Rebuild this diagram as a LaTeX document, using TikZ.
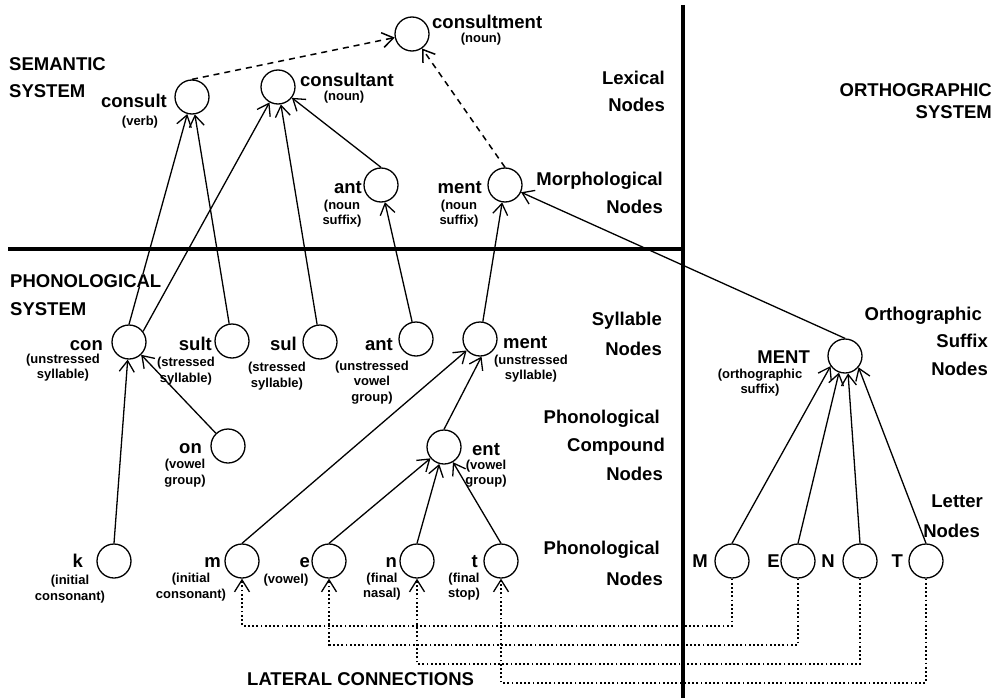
\documentclass[tikz,border=0pt]{standalone}
\usepackage{fontspec}
\setmainfont{Liberation Sans}
\usetikzlibrary{arrows.meta}
\begin{document}
\begin{tikzpicture}[x=1pt,y=-1pt,
  nd/.style={circle,draw,line width=1.3pt,minimum size=34pt,inner sep=0pt},
  big/.style={font=\bfseries\fontsize{18.5}{22}\selectfont,inner sep=0pt},
  lbl/.style={font=\bfseries\fontsize{13}{15.5}\selectfont,inner sep=0pt,align=center},
  link/.style={line width=1.3pt,-{Straight Barb[length=11pt,width=15pt]}},
  dlink/.style={link,line width=1.5pt,dash pattern=on 6pt off 5pt},
  lat/.style={line width=1.8pt,dash pattern=on 1.8pt off 2.4pt,-{Straight Barb[length=12pt,width=15pt,line width=1.3pt]}},
  wall/.style={line width=4.5pt}]
\useasboundingbox (0,0) rectangle (1000,698);

% walls
\draw[wall] (8,249) -- (683,249);
\draw[wall] (683,5) -- (683,698);

% nodes
\node[nd] (consultment) at (412,34) {};
\node[nd] (consult) at (192,97) {};
\node[nd] (consultant) at (278,87) {};
\node[nd] (antM) at (381,185) {};
\node[nd] (mentM) at (505,185) {};
\node[nd] (con) at (129,342) {};
\node[nd] (sult) at (232,341) {};
\node[nd] (sul) at (320,342) {};
\node[nd] (antS) at (416,339) {};
\node[nd] (mentS) at (480,339) {};
\node[nd] (on) at (228,446) {};
\node[nd] (ent) at (444,447) {};
\node[nd] (k) at (114,561) {};
\node[nd] (m) at (242,561) {};
\node[nd] (e) at (329,561) {};
\node[nd] (n) at (417,561) {};
\node[nd] (t) at (501,561) {};
\node[nd] (MENT) at (845,356) {};
\node[nd] (M) at (732,561) {};
\node[nd] (E) at (798,561) {};
\node[nd] (N) at (860,561) {};
\node[nd] (T) at (926,561) {};

% connections
\draw[dlink] (consult.north) -- (consultment);
\draw[dlink] (mentM.north) -- (consultment);
\draw[link] (con.north) -- (consult);
\draw[link] (sult) -- (consult);
\draw[link] (con.37) -- (consultant);
\draw[link] (sul) -- (consultant);
\draw[link] (antM.north) -- (consultant);
\draw[link] (antS) -- (antM);
\draw[link] (mentS) -- (mentM);
\draw[link] (MENT.north) -- (mentM);
\draw[link] (on) -- (con);
\draw[link] (k.north) -- (con);
\draw[link] (m.north) -- (mentS);
\draw[link] (ent.north) -- (mentS.275);
\draw[link] (e.north) -- (ent);
\draw[link] (n.north) -- (ent);
\draw[link] (t.north) -- (ent);
\draw[link] (M.north) -- (MENT.215);
\draw[link] (E.north) -- (MENT.250);
\draw[link] (N.north) -- (MENT.280);
\draw[link] (T.north) -- (MENT.320);

% lateral connections
\draw[lat] (M.south) -- ++(0,47) -| (m.south);
\draw[lat] (E.south) -- ++(0,66) -| (e.south);
\draw[lat] (N.south) -- ++(0,85) -| (n.south);
\draw[lat] (T.south) -- ++(0,104) -| (t.south);

% texts
\node[big,anchor=base west] (tsem1) at (9,71) {SEMANTIC};
\node[big,anchor=base west] (tsem2) at (9,98) {SYSTEM};
\node[big,anchor=base east] (tconsult) at (167,108) {consult};
\node[lbl] (lconsult) at (140,122) {(verb)};
\node[big,anchor=base west] (tconsultant) at (300,87) {consultant};
\node[lbl] (lconsultant) at (344,97) {(noun)};
\node[big,anchor=base west] (tconsultment) at (432,29) {consultment};
\node[lbl] (lconsultment) at (481,39.5) {(noun)};
\node[big,anchor=base east] (tlex1) at (665,85) {Lexical};
\node[big,anchor=base east] (tlex2) at (665,112) {Nodes};
\node[big,anchor=base east] (tantM) at (362,193) {ant};
\node[lbl] (lantM) at (342,213.5) {(noun\\suffix)};
\node[big,anchor=base east] (tmentM) at (482,193) {ment};
\node[lbl] (lmentM) at (459,213.5) {(noun\\suffix)};
\node[big,anchor=base east] (tmor1) at (663,185) {Morphological};
\node[big,anchor=base east] (tmor2) at (663,213) {Nodes};
\node[big,anchor=base east] (tortho1) at (992,97) {ORTHOGRAPHIC};
\node[big,anchor=base east] (tortho2) at (992,118) {SYSTEM};
\node[big,anchor=base west,fill=white] (tphon1) at (10,287) {PHONOLOGICAL};
\node[big,anchor=base west] (tphon2) at (10,315) {SYSTEM};
\node[big,anchor=base east] (tcon) at (103,350) {con};
\node[lbl] (lcon) at (63,367.5) {(unstressed\\syllable)};
\node[big,anchor=base east] (tsult) at (212,350) {sult};
\node[lbl] (lsult) at (186,371) {(stressed\\syllable)};
\node[big,anchor=base east] (tsul) at (297,350) {sul};
\node[lbl] (lsul) at (277,376) {(stressed\\syllable)};
\node[big,anchor=base east] (tantS) at (393,350) {ant};
\node[lbl] (lantS) at (372,382.5) {(unstressed\\vowel\\group)};
\node[big,anchor=base west] (tmentS) at (503,348) {ment};
\node[lbl] (lmentS) at (531,368.5) {(unstressed\\syllable)};
\node[big,anchor=base east] (tsyl1) at (662,325) {Syllable};
\node[big,anchor=base east] (tsyl2) at (662,355) {Nodes};
\node[big,anchor=base east] (ton) at (202,453) {on};
\node[lbl] (lon) at (185,473) {(vowel\\group)};
\node[big,anchor=base west] (tent) at (472,455) {ent};
\node[lbl] (lent) at (486,473.5) {(vowel\\group)};
\node[big,anchor=base east] (tcmp1) at (660,423) {Phonological};
\node[big,anchor=base east] (tcmp2) at (665,451) {Compound};
\node[big,anchor=base east] (tcmp3) at (663,480) {Nodes};
\node[big,anchor=base east] (tk) at (83,567) {k};
\node[lbl] (lk) at (70,589) {(initial\\consonant)};
\node[big,anchor=base east] (tm) at (221,567) {m};
\node[lbl] (lm) at (191,587) {(initial\\consonant)};
\node[big,anchor=base east] (te) at (310,567) {e};
\node[lbl] (le) at (286,580) {(vowel)};
\node[big,anchor=base east] (tn) at (397,567) {n};
\node[lbl] (ln) at (382,586.5) {(final\\nasal)};
\node[big,anchor=base east] (tt) at (478,567) {t};
\node[lbl] (lt) at (464,586.5) {(final\\stop)};
\node[big,anchor=base east] (tpho1) at (660,554) {Phonological};
\node[big,anchor=base east] (tpho2) at (663,585) {Nodes};
\node[big,anchor=base east] (tMENT) at (810,363) {MENT};
\node[lbl] (lMENT) at (760,382.5) {(orthographic\\suffix)};
\node[big,anchor=base east] (tos1) at (982,320) {Orthographic};
\node[big,anchor=base east] (tos2) at (988,347) {Suffix};
\node[big,anchor=base east] (tos3) at (988,375) {Nodes};
\node[big,anchor=base east] (tlet1) at (983,507) {Letter};
\node[big,anchor=base east] (tlet2) at (980,537) {Nodes};
\node[big,anchor=base east] (tM) at (708,567) {M};
\node[big,anchor=base east] (tE) at (780,567) {E};
\node[big,anchor=base east] (tN) at (835,567) {N};
\node[big,anchor=base east] (tT) at (903,567) {T};
\node[big,anchor=base west] (tlat) at (247,685) {LATERAL CONNECTIONS};
\end{tikzpicture}
\end{document}
